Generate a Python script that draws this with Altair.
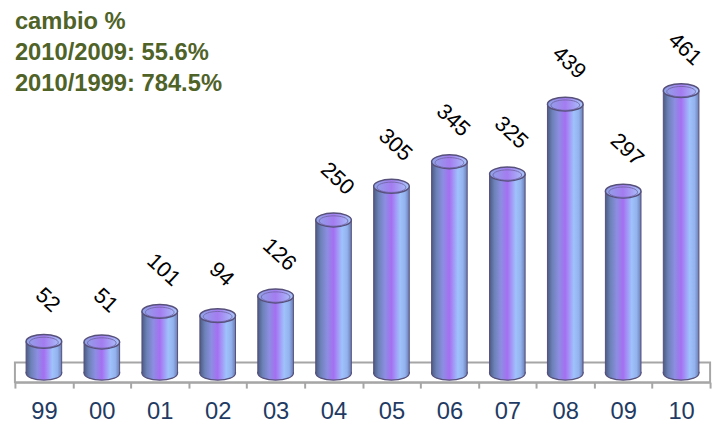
import math
import altair as alt
import pandas as pd

years = ["99", "00", "01", "02", "03", "04", "05", "06", "07", "08", "09", "10"]
values = [52, 51, 101, 94, 126, 250, 305, 345, 325, 439, 297, 461]
header_lines = ["cambio %", "2010/2009: 55.6%", "2010/1999: 784.5%"]

df = pd.DataFrame({"year": years, "value": values})
one = pd.DataFrame({"k": [0]})

FONT = "Liberation Sans"
W, H = 703, 368
YDOM = [-14.5, 579.1]
FLOOR_TOP = 17.7

xenc = alt.X("year:N", sort=years,
             scale=alt.Scale(paddingInner=0, paddingOuter=0),
             axis=alt.Axis(title=None, labelAngle=0, labelFontSize=24, labelFont=FONT,
                           labelColor="#1f3b63", tickBand="extent", tickSize=6,
                           tickColor="#a6a6a6", tickWidth=2, domainColor="#a6a6a6",
                           domainWidth=2, labelPadding=12))
yscale = alt.Scale(domain=YDOM, nice=False, zero=False)

body_grad = alt.Gradient(
    gradient="linear", x1=0, x2=1, y1=0, y2=0,
    stops=[
        alt.GradientStop(color="#4d5b85", offset=0),
        alt.GradientStop(color="#6d82b8", offset=0.14),
        alt.GradientStop(color="#8c8ee2", offset=0.32),
        alt.GradientStop(color="#a56ff2", offset=0.5),
        alt.GradientStop(color="#9fc2fb", offset=0.74),
        alt.GradientStop(color="#93b2ee", offset=0.88),
        alt.GradientStop(color="#6a7db3", offset=1),
    ])
top_grad = alt.Gradient(
    gradient="linear", x1=0, x2=1, y1=0, y2=0,
    stops=[
        alt.GradientStop(color="#8ea6e6", offset=0),
        alt.GradientStop(color="#a47cf0", offset=0.5),
        alt.GradientStop(color="#a9c8fa", offset=1),
    ])

R = 0.39
top_shape = f"M -1 0 A 1 {R} 0 1 0 1 0 A 1 {R} 0 1 0 -1 0 Z"
inner_shape = "M -1 0 A 1 0.36 0 1 0 1 0 A 1 0.36 0 1 0 -1 0 Z"
bottom_shape = f"M -1 -0.08 L -1 0 A 1 {R} 0 0 0 1 0 L 1 -0.08"
CAP_SIZE = 36 * 36
INNER_SIZE = 29 * 29

# invisible base layer that defines scales and the axis
base = alt.Chart(df).mark_bar(width=36, opacity=0).encode(
    x=xenc,
    y=alt.Y("value:Q", scale=yscale, axis=None),
    y2=alt.datum(0),
)

floor = alt.Chart(one).mark_rect(fill="white", stroke="#a6a6a6", strokeWidth=2).encode(
    x=alt.value(0), x2=alt.value(W),
    y=alt.datum(-14.5), y2=alt.datum(FLOOR_TOP),
)

bars = alt.Chart(df).mark_bar(width=36, color=body_grad, stroke="#56507a", strokeWidth=1).encode(
    x=alt.X("year:N", sort=years),
    y=alt.Y("value:Q"),
    y2=alt.datum(0),
)

bottom_caps = alt.Chart(df).mark_point(
    shape=bottom_shape, size=CAP_SIZE, filled=True, color=body_grad, opacity=1,
    stroke="#56507a", strokeWidth=1.2).encode(
    x=alt.X("year:N", sort=years),
    y=alt.datum(0),
)

top_caps = alt.Chart(df).mark_point(
    shape=top_shape, size=CAP_SIZE, filled=True, color=top_grad, opacity=1,
    stroke="#56507a", strokeWidth=1.5).encode(
    x=alt.X("year:N", sort=years),
    y=alt.Y("value:Q"),
)

inner_caps = alt.Chart(df).mark_point(
    shape=inner_shape, size=INNER_SIZE, filled=False, opacity=0.8,
    stroke="#6e62a0", strokeWidth=1, yOffset=1).encode(
    x=alt.X("year:N", sort=years),
    y=alt.Y("value:Q"),
)

ANG = 43
sx, sy = 4, -42
a = math.radians(ANG)
ldx = sx * math.cos(a) + sy * math.sin(a)
ldy = -sx * math.sin(a) + sy * math.cos(a)

labels = alt.Chart(df).mark_text(
    angle=ANG, fontSize=22, font=FONT, color="#000000", align="center",
    baseline="middle", dx=ldx, dy=ldy).encode(
    x=alt.X("year:N", sort=years),
    y=alt.Y("value:Q"),
    text=alt.Text("value:Q"),
)

header_y = [11, 42.5, 74]
header_layers = []
for line, hy in zip(header_lines, header_y):
    header_layers.append(
        alt.Chart(one).mark_text(
            text=line, fontSize=24, fontWeight="bold", font=FONT, color="#4f6228",
            align="left", baseline="alphabetic").encode(
            x=alt.value(0), y=alt.value(hy),
        )
    )

chart = alt.layer(base, floor, bars, bottom_caps, top_caps, inner_caps, labels,
                  *header_layers).properties(
    width=W, height=H,
    autosize=alt.AutoSizeParams(type="none"),
    padding={"left": 7, "top": 8, "right": 8, "bottom": 44},
).configure_view(strokeWidth=0)

chart.save("out.html", embed_options={"renderer": "svg", "actions": False})
